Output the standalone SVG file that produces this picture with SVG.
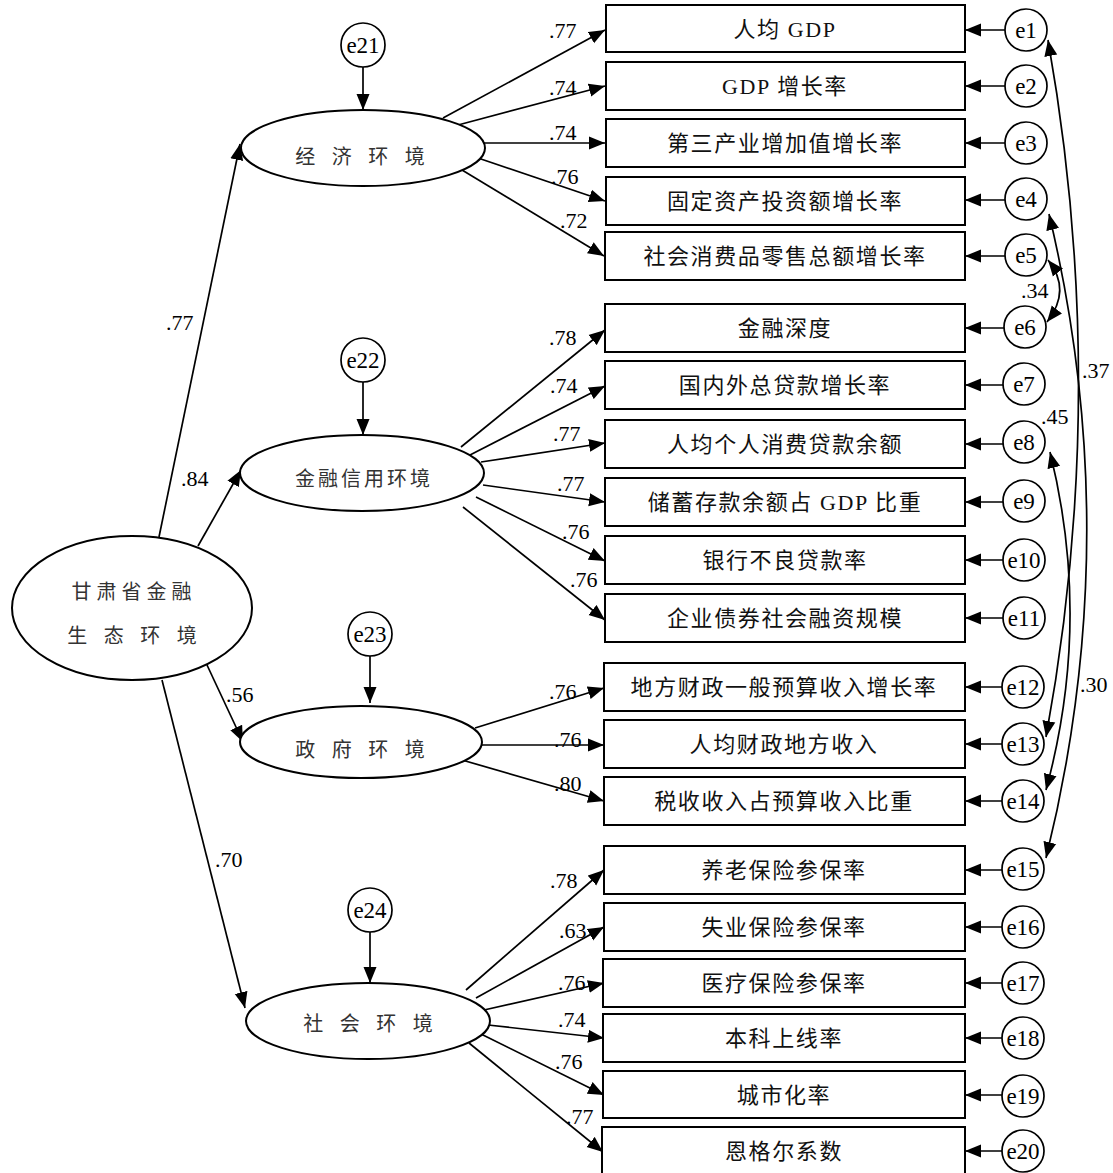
<svg xmlns="http://www.w3.org/2000/svg" width="1113" height="1173" viewBox="0 0 1113 1173">
<defs>
<marker id="ah" markerUnits="userSpaceOnUse" markerWidth="17" markerHeight="14" refX="16" refY="6.5" orient="auto-start-reverse" viewBox="0 0 17 13">
<path d="M0,0 L16,6.5 L0,13 Z" fill="#000"/>
</marker>
<style>
.ln{stroke:#000;stroke-width:1.7;fill:none;marker-end:url(#ah)}
.cv{stroke:#000;stroke-width:1.7;fill:none;marker-start:url(#ah);marker-end:url(#ah)}
.bx{fill:#fff;stroke:#000;stroke-width:2}
.el{fill:#fff;stroke:#000;stroke-width:2}
.ci{fill:#fff;stroke:#000;stroke-width:1.7}
.bt{font-family:"Liberation Serif","Noto Sans CJK SC",serif;font-size:22px;letter-spacing:1.6px;text-anchor:middle;dominant-baseline:central;fill:#111}
.et{font-family:"Liberation Serif",serif;font-size:23px;text-anchor:middle;dominant-baseline:central;fill:#000}
.nt{font-family:"Liberation Serif",serif;font-size:22px;fill:#000}
.lt{font-family:"Noto Sans CJK SC",sans-serif;font-size:20px;text-anchor:middle;dominant-baseline:central;fill:#333}
</style>
</defs>
<rect width="1113" height="1173" fill="#fff"/>

<g id="connectors">
<line class="ln" x1="363" y1="67" x2="363" y2="110"/>
<line class="ln" x1="363" y1="382" x2="363" y2="435"/>
<line class="ln" x1="370" y1="656" x2="370" y2="703"/>
<line class="ln" x1="370" y1="932" x2="370" y2="983"/>
<line class="ln" x1="159" y1="537" x2="240" y2="144"/>
<line class="ln" x1="198" y1="546" x2="241" y2="470"/>
<line class="ln" x1="207" y1="665" x2="243" y2="742"/>
<line class="ln" x1="162" y1="680" x2="245" y2="1008"/>
<line class="ln" x1="443" y1="118" x2="605" y2="30"/>
<line class="ln" x1="458" y1="125" x2="605" y2="86"/>
<line class="ln" x1="480" y1="143" x2="605" y2="143"/>
<line class="ln" x1="478" y1="158" x2="605" y2="201"/>
<line class="ln" x1="462" y1="170" x2="604" y2="256"/>
<line class="ln" x1="461" y1="447" x2="605" y2="330"/>
<line class="ln" x1="470" y1="455" x2="605" y2="386"/>
<line class="ln" x1="481" y1="462" x2="605" y2="443"/>
<line class="ln" x1="483" y1="485" x2="605" y2="502"/>
<line class="ln" x1="476" y1="497" x2="605" y2="561"/>
<line class="ln" x1="463" y1="507" x2="605" y2="620"/>
<line class="ln" x1="475" y1="728" x2="604" y2="688"/>
<line class="ln" x1="482" y1="745" x2="604" y2="745"/>
<line class="ln" x1="462" y1="760" x2="604" y2="801"/>
<line class="ln" x1="466" y1="990" x2="604" y2="870"/>
<line class="ln" x1="476" y1="998" x2="604" y2="927"/>
<line class="ln" x1="484" y1="1010" x2="604" y2="983"/>
<line class="ln" x1="488" y1="1025" x2="604" y2="1038"/>
<line class="ln" x1="481" y1="1034" x2="604" y2="1095"/>
<line class="ln" x1="469" y1="1043" x2="603" y2="1152"/>
<line class="ln" x1="1005" y1="30" x2="965" y2="30"/>
<line class="ln" x1="1005" y1="86" x2="965" y2="86"/>
<line class="ln" x1="1005" y1="143" x2="965" y2="143"/>
<line class="ln" x1="1005" y1="200" x2="965" y2="200"/>
<line class="ln" x1="1005" y1="256" x2="965" y2="256"/>
<line class="ln" x1="1004" y1="328" x2="965" y2="328"/>
<line class="ln" x1="1003" y1="385" x2="965" y2="385"/>
<line class="ln" x1="1003" y1="444" x2="965" y2="444"/>
<line class="ln" x1="1003" y1="502" x2="965" y2="502"/>
<line class="ln" x1="1003" y1="560" x2="965" y2="560"/>
<line class="ln" x1="1003" y1="618" x2="965" y2="618"/>
<line class="ln" x1="1002" y1="687" x2="965" y2="687"/>
<line class="ln" x1="1002" y1="744" x2="965" y2="744"/>
<line class="ln" x1="1002" y1="801" x2="965" y2="801"/>
<line class="ln" x1="1002" y1="870" x2="965" y2="870"/>
<line class="ln" x1="1002" y1="927" x2="965" y2="927"/>
<line class="ln" x1="1002" y1="983" x2="965" y2="983"/>
<line class="ln" x1="1002" y1="1038" x2="965" y2="1038"/>
<line class="ln" x1="1002" y1="1095" x2="965" y2="1095"/>
<line class="ln" x1="1002" y1="1151" x2="965" y2="1151"/>
<path class="cv" d="M1048,260 Q1072,290 1047,322"/>
<path class="cv" d="M1048,40 Q1110,389 1046,737"/>
<path class="cv" d="M1049,214 Q1126,536 1046,858"/>
<path class="cv" d="M1050,452 Q1092,621 1046,790"/>
</g>

<g id="labels" class="nt">
<text x="166" y="330">.77</text>
<text x="181" y="486">.84</text>
<text x="226" y="702">.56</text>
<text x="215" y="867">.70</text>
<text x="549" y="38">.77</text>
<text x="549" y="95">.74</text>
<text x="549" y="140">.74</text>
<text x="551" y="184">.76</text>
<text x="560" y="228">.72</text>
<text x="549" y="345">.78</text>
<text x="550" y="393">.74</text>
<text x="553" y="441">.77</text>
<text x="557" y="491">.77</text>
<text x="562" y="539">.76</text>
<text x="570" y="587">.76</text>
<text x="549" y="699">.76</text>
<text x="554" y="747">.76</text>
<text x="554" y="791">.80</text>
<text x="550" y="888">.78</text>
<text x="559" y="938">.63</text>
<text x="558" y="990">.76</text>
<text x="558" y="1027">.74</text>
<text x="555" y="1069">.76</text>
<text x="566" y="1124">.77</text>
<text x="1021" y="298">.34</text>
<text x="1082" y="378">.37</text>
<text x="1041" y="424">.45</text>
<text x="1080" y="692">.30</text>
</g>

<g id="root">
<ellipse class="el" cx="132" cy="608" rx="120" ry="72"/>
<text class="lt" x="134" y="590" font-size="21px" letter-spacing="5">甘肃省金融</text>
<text class="lt" x="135" y="634" font-size="21px" letter-spacing="6">生 态 环 境</text>
</g>
<g id="economy">
<ellipse class="el" cx="363" cy="148" rx="122" ry="38"/>
<text class="lt" x="363" y="155" letter-spacing="6">经 济 环 境</text>
</g>
<g id="finance">
<ellipse class="el" cx="362" cy="473" rx="122" ry="38"/>
<text class="lt" x="364" y="477" font-size="18px" letter-spacing="3">金融信用环境</text>
</g>
<g id="government">
<ellipse class="el" cx="361" cy="742" rx="121" ry="36"/>
<text class="lt" x="363" y="748" letter-spacing="6">政 府 环 境</text>
</g>
<g id="society">
<ellipse class="el" cx="368" cy="1021" rx="122" ry="38"/>
<text class="lt" x="371" y="1022" letter-spacing="6">社 会 环 境</text>
</g>

<g id="e21"><circle class="ci" cx="363" cy="45" r="22"/><text class="et" x="363" y="45">e21</text></g>
<g id="e22"><circle class="ci" cx="363" cy="360" r="22"/><text class="et" x="363" y="360">e22</text></g>
<g id="e23"><circle class="ci" cx="370" cy="634" r="22"/><text class="et" x="370" y="634">e23</text></g>
<g id="e24"><circle class="ci" cx="370" cy="910" r="22"/><text class="et" x="370" y="910">e24</text></g>

<g id="ind1"><rect class="bx" x="606" y="5" width="359" height="47"/><text class="bt" x="785" y="29">人均 GDP</text></g>
<g id="ind2"><rect class="bx" x="606" y="62" width="359" height="48"/><text class="bt" x="785" y="86">GDP 增长率</text></g>
<g id="ind3"><rect class="bx" x="606" y="119" width="359" height="48"/><text class="bt" x="785" y="143">第三产业增加值增长率</text></g>
<g id="ind4"><rect class="bx" x="606" y="177" width="359" height="48"/><text class="bt" x="785" y="201">固定资产投资额增长率</text></g>
<g id="ind5"><rect class="bx" x="605" y="232" width="360" height="48"/><text class="bt" x="785" y="256">社会消费品零售总额增长率</text></g>
<g id="ind6"><rect class="bx" x="605" y="304" width="360" height="48"/><text class="bt" x="785" y="328">金融深度</text></g>
<g id="ind7"><rect class="bx" x="605" y="361" width="360" height="48"/><text class="bt" x="785" y="385">国内外总贷款增长率</text></g>
<g id="ind8"><rect class="bx" x="605" y="420" width="360" height="48"/><text class="bt" x="785" y="444">人均个人消费贷款余额</text></g>
<g id="ind9"><rect class="bx" x="605" y="478" width="360" height="48"/><text class="bt" x="785" y="502">储蓄存款余额占 GDP 比重</text></g>
<g id="ind10"><rect class="bx" x="605" y="536" width="360" height="48"/><text class="bt" x="785" y="560">银行不良贷款率</text></g>
<g id="ind11"><rect class="bx" x="605" y="594" width="360" height="48"/><text class="bt" x="785" y="618">企业债券社会融资规模</text></g>
<g id="ind12"><rect class="bx" x="604" y="663" width="361" height="48"/><text class="bt" x="784" y="687">地方财政一般预算收入增长率</text></g>
<g id="ind13"><rect class="bx" x="604" y="720" width="361" height="48"/><text class="bt" x="784" y="744">人均财政地方收入</text></g>
<g id="ind14"><rect class="bx" x="604" y="777" width="361" height="48"/><text class="bt" x="784" y="801">税收收入占预算收入比重</text></g>
<g id="ind15"><rect class="bx" x="604" y="846" width="361" height="48"/><text class="bt" x="784" y="870">养老保险参保率</text></g>
<g id="ind16"><rect class="bx" x="604" y="903" width="361" height="48"/><text class="bt" x="784" y="927">失业保险参保率</text></g>
<g id="ind17"><rect class="bx" x="603" y="959" width="362" height="48"/><text class="bt" x="784" y="983">医疗保险参保率</text></g>
<g id="ind18"><rect class="bx" x="603" y="1014" width="362" height="48"/><text class="bt" x="784" y="1038">本科上线率</text></g>
<g id="ind19"><rect class="bx" x="603" y="1071" width="362" height="47"/><text class="bt" x="784" y="1095">城市化率</text></g>
<g id="ind20"><rect class="bx" x="602" y="1127" width="363" height="50"/><text class="bt" x="784" y="1151">恩格尔系数</text></g>

<g id="e1"><circle class="ci" cx="1026" cy="30" r="21"/><text class="et" x="1026" y="30">e1</text></g>
<g id="e2"><circle class="ci" cx="1026" cy="86" r="21"/><text class="et" x="1026" y="86">e2</text></g>
<g id="e3"><circle class="ci" cx="1026" cy="143" r="21"/><text class="et" x="1026" y="143">e3</text></g>
<g id="e4"><circle class="ci" cx="1026" cy="199" r="21"/><text class="et" x="1026" y="199">e4</text></g>
<g id="e5"><circle class="ci" cx="1026" cy="255" r="21"/><text class="et" x="1026" y="255">e5</text></g>
<g id="e6"><circle class="ci" cx="1025" cy="327" r="21"/><text class="et" x="1025" y="327">e6</text></g>
<g id="e7"><circle class="ci" cx="1024" cy="384" r="21"/><text class="et" x="1024" y="384">e7</text></g>
<g id="e8"><circle class="ci" cx="1024" cy="442" r="21"/><text class="et" x="1024" y="442">e8</text></g>
<g id="e9"><circle class="ci" cx="1024" cy="501" r="21"/><text class="et" x="1024" y="501">e9</text></g>
<g id="e10"><circle class="ci" cx="1024" cy="560" r="21"/><text class="et" x="1024" y="560">e10</text></g>
<g id="e11"><circle class="ci" cx="1024" cy="618" r="21"/><text class="et" x="1024" y="618">e11</text></g>
<g id="e12"><circle class="ci" cx="1023" cy="687" r="21"/><text class="et" x="1023" y="687">e12</text></g>
<g id="e13"><circle class="ci" cx="1023" cy="744" r="21"/><text class="et" x="1023" y="744">e13</text></g>
<g id="e14"><circle class="ci" cx="1023" cy="801" r="21"/><text class="et" x="1023" y="801">e14</text></g>
<g id="e15"><circle class="ci" cx="1023" cy="869" r="21"/><text class="et" x="1023" y="869">e15</text></g>
<g id="e16"><circle class="ci" cx="1023" cy="927" r="21"/><text class="et" x="1023" y="927">e16</text></g>
<g id="e17"><circle class="ci" cx="1023" cy="983" r="21"/><text class="et" x="1023" y="983">e17</text></g>
<g id="e18"><circle class="ci" cx="1023" cy="1038" r="21"/><text class="et" x="1023" y="1038">e18</text></g>
<g id="e19"><circle class="ci" cx="1023" cy="1096" r="21"/><text class="et" x="1023" y="1096">e19</text></g>
<g id="e20"><circle class="ci" cx="1023" cy="1151" r="21"/><text class="et" x="1023" y="1151">e20</text></g>
</svg>
